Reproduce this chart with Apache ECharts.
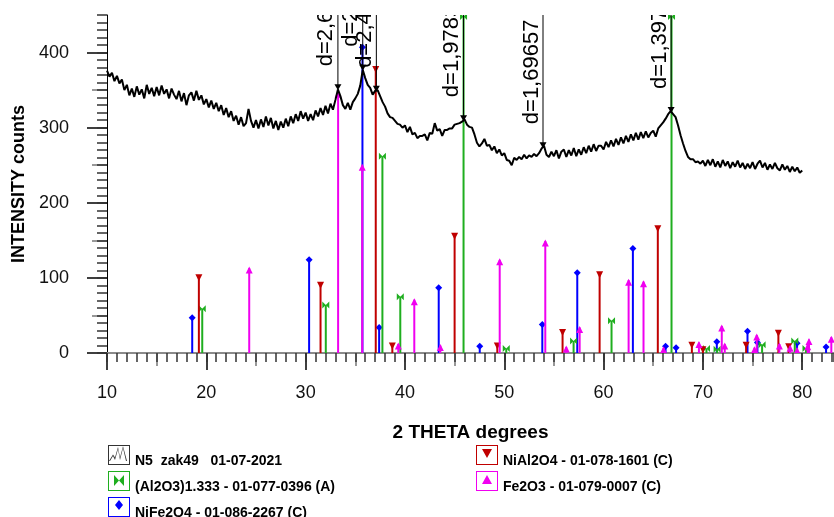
<!DOCTYPE html>
<html>
<head>
<meta charset="utf-8">
<script src="https://cdn.jsdelivr.net/npm/echarts@6/dist/echarts.min.js"></script>
<style>
html, body { margin: 0; padding: 0; background: #fff; }
#main { width: 834px; height: 517px; }
</style>
</head>
<body>
<div id="main"></div>
<script>
var FONT = '"Liberation Sans", Arial, sans-serif';

// measured scan, 2theta 10..80 in steps of 0.25
var scanStart = 10;
var scanStep = 0.25;
var scanCounts = [
	376, 368, 373, 362, 369, 359, 364, 350, 357, 343, 352, 341, 355, 344, 351, 339, 357, 345, 353, 342,
	354, 343, 356, 345, 351, 339, 352, 344, 338, 349, 335, 346, 330, 343, 347, 336, 349, 337, 343, 331,
	338, 327, 336, 325, 333, 322, 330, 317, 326, 314, 322, 309, 316, 304, 314, 302, 306, 325, 309, 300,
	310, 299, 311, 301, 315, 303, 313, 299, 309, 297, 308, 300, 312, 302, 315, 306, 318, 309, 322, 312,
	320, 309, 318, 310, 323, 315, 326, 317, 329, 319, 332, 324, 337, 351, 342, 330, 325, 333, 324, 334,
	339, 345, 356, 377, 366, 357, 353, 344, 349, 350, 342, 334, 328, 319, 314, 313, 309, 305, 304, 300,
	303, 294, 301, 291, 293, 286, 289, 289, 291, 283, 293, 292, 306, 296, 298, 289, 297, 297, 299, 299,
	304, 305, 306, 308, 311, 304, 301, 300, 291, 280, 275, 279, 285, 276, 277, 270, 275, 266, 271, 263,
	266, 257, 256, 250, 260, 257, 261, 258, 264, 259, 263, 261, 265, 262, 266, 272, 276, 264, 261, 268,
	262, 270, 259, 268, 271, 261, 270, 263, 273, 262, 271, 264, 274, 266, 276, 268, 278, 269, 276, 276,
	271, 281, 274, 283, 275, 285, 277, 287, 279, 289, 281, 291, 283, 293, 284, 294, 286, 295, 287, 293,
	296, 288, 299, 303, 307, 312, 318, 322, 318, 314, 303, 290, 279, 269, 261, 258, 258, 254, 255, 252,
	256, 249, 257, 250, 258, 248, 255, 247, 257, 249, 255, 246, 254, 248, 256, 247, 253, 245, 252, 246,
	254, 245, 252, 256, 247, 253, 244, 251, 245, 253, 246, 243, 251, 244, 249, 241, 248, 242, 247, 240,
	243
];

// peak labels (d spacing)
var dTheta = [33.25, 35.75, 37.12, 45.9, 53.9, 66.8];
var dCounts = [351, 377, 349, 310, 274, 321];
var dText = ['d=2,69241', 'd=2,51168', 'd=2,42016', 'd=1,97831', 'd=1,69657', 'd=1,39721'];

// reference patterns
var niFeTheta = [18.58, 30.35, 35.72, 37.4, 43.4, 47.53, 53.83, 57.35, 62.95, 66.24, 67.3, 71.4, 74.49, 75.49, 79.48, 82.4];
var niFeInt = [47, 124, 407, 34, 87, 9, 38, 107, 139, 9, 7, 15, 29, 14, 13, 8];

var alOxTheta = [19.59, 32.03, 37.73, 39.53, 45.9, 50.2, 56.98, 60.8, 66.84, 70.36, 71.43, 75.96, 79.25, 80.38];
var alOxInt = [59, 64, 262, 75, 448, 6, 16, 43, 448, 6, 5, 11, 16, 6];

var niAlTheta = [19.25, 31.5, 37.06, 38.73, 45.0, 49.3, 55.87, 59.6, 65.46, 68.89, 70.0, 74.35, 77.6, 78.64];
var niAlInt = [103, 93, 380, 12, 158, 12, 30, 107, 168, 13, 7, 13, 29, 11];

var feOxTheta = [24.32, 33.27, 35.7, 39.33, 40.94, 43.56, 49.54, 54.13, 56.24, 57.59, 62.52, 64.02, 66.04, 69.6, 71.9, 72.2, 75.19, 75.42, 77.7, 78.78, 79.48, 80.55, 80.68, 82.93];
var feOxInt = [113, 347, 250, 12, 71, 10, 124, 149, 8, 34, 97, 95, 7, 14, 36, 12, 7, 24, 12, 9, 6, 11, 18, 21];

// axis ticks
var xMajor = [10, 20, 30, 40, 50, 60, 70, 80];
var xMid = [15, 25, 35, 45, 55, 65, 75];
var yMajor = [0, 100, 200, 300, 400];
var yMid = [50, 150, 250, 350];

var names = {
	scan: 'N5  zak49   01-07-2021',
	alOx: '(Al2O3)1.333 - 01-077-0396 (A)',
	niFe: 'NiFe2O4 - 01-086-2267 (C)',
	niAl: 'NiAl2O4 - 01-078-1601 (C)',
	feOx: 'Fe2O3 - 01-079-0007 (C)'
};
var colors = { scan: '#000', alOx: '#1fae1f', niFe: '#0000ff', niAl: '#c00000', feOx: '#f000f0' };

// marker shapes
var mkDown = 'M0 0L10 0L5 9Z';
var mkUp = 'M5 0L10 9L0 9Z';
var mkTie = 'M0 0L5 5L0 10Z M10 0L5 5L10 10Z';
var mkDiamond = 'M5 0L10 5L5 10L0 5Z';

// legend boxes
var frame = 'M0 0H22V20H0Z M1 1V19H21V1Z ';
var icons = {
	scan: frame + 'M2 16L5 11L7 15L10 4L12 15L15 3L18 16L19 16L15 1.2L12 12.5L10 2L7 12.6L5 9.4L1 16Z',
	alOx: frame + 'M6 4L11 9.5L6 15Z M16 4L11 9.5L16 15Z',
	niFe: frame + 'M11 3L15 8L11 13L7 8Z',
	niAl: frame + 'M6 4H16L11 13Z',
	feOx: frame + 'M11 4L16 13H6Z'
};

function pairs(xs, ys) {
	var out = [];
	for (var i = 0; i < xs.length; i++) out.push([xs[i], ys[i]]);
	return out;
}

var scanData = [];
for (var i = 0; i < scanCounts.length; i++) {
	scanData.push([scanStart + i * scanStep, scanCounts[i]]);
}

function stickRender(shape, dy) {
	return function (params, api) {
		var x = api.value(0);
		var base = api.coord([x, 0]);
		var tip = api.coord([x, api.value(1)]);
		var c = api.visual('color');
		return {
			type: 'group',
			children: [
				{ type: 'line', shape: { x1: base[0], y1: base[1], x2: tip[0], y2: tip[1] }, style: { stroke: c, lineWidth: 2 } },
				{ type: 'path', shape: { pathData: shape, x: tip[0] - 3.5, y: tip[1] - 3.5 + dy, width: 7, height: 7, layout: 'cover' }, style: { fill: c } }
			]
		};
	};
}

function dRender(params, api) {
	var pt = api.coord([api.value(0), api.value(1)]);
	var topY = params.coordSys.y;
	return {
		type: 'group',
		children: [
			{ type: 'line', shape: { x1: pt[0], y1: topY, x2: pt[0], y2: pt[1] - 3 }, style: { stroke: '#000', lineWidth: 1 } },
			{ type: 'path', shape: { pathData: mkDown, x: pt[0] - 3.5, y: pt[1] - 5, width: 7, height: 6, layout: 'cover' }, style: { fill: '#000' } },
			{ type: 'text', x: pt[0] - 11.5, y: pt[1] - 23, rotation: Math.PI / 2,
				style: { text: dText[params.dataIndex], fill: '#000', fontSize: 22, fontFamily: FONT, align: 'left', verticalAlign: 'middle' } }
		]
	};
}

// three stacked bottom axes: labelled decades, mid ticks at fives, minor at every degree
function xAxisOf(ticks, len, color, idx) {
	var ax = {
		type: 'value', min: 10, max: 83.2, position: 'bottom',
		axisLine: { show: idx === 0, lineStyle: { color: '#8a8a8a', width: 2 } },
		axisTick: { length: len, lineStyle: { color: color, width: 1.5 } },
		axisLabel: { show: false },
		splitLine: { show: false }
	};
	if (ticks) {
		ax.axisTick.customValues = ticks;
	} else {
		ax.interval = 1;
	}
	if (idx === 0) {
		ax.axisLabel = { customValues: ticks, margin: 31, fontSize: 18, color: '#111', fontFamily: FONT };
		ax.name = '2 THETA degrees';
		ax.nameLocation = 'middle';
		ax.nameGap = 70;
		ax.nameTextStyle = { fontSize: 19, fontWeight: 'bold', color: '#000', fontFamily: FONT };
	}
	return ax;
}

function yAxisOf(ticks, len, color, idx) {
	var ax = {
		type: 'value', min: 0, max: 450, position: 'left',
		axisLine: { show: idx === 0, lineStyle: { color: '#000', width: 1 } },
		axisTick: { length: len, lineStyle: { color: color, width: 1.5 } },
		axisLabel: { show: false },
		splitLine: { show: false }
	};
	if (ticks) {
		ax.axisTick.customValues = ticks;
	} else {
		ax.interval = 10;
	}
	if (idx === 0) {
		ax.axisLabel = { customValues: ticks, margin: 38, fontSize: 18, color: '#111', fontFamily: FONT };
		ax.name = 'INTENSITY counts';
		ax.nameLocation = 'middle';
		ax.nameGap = 78;
		ax.nameTextStyle = { fontSize: 18, fontWeight: 'bold', color: '#000', fontFamily: FONT };
	}
	return ax;
}

function legendItem(key) {
	return { name: names[key], icon: 'path://' + icons[key], itemStyle: { color: key === 'scan' ? '#333' : colors[key] } };
}

function legendOf(keys, left) {
	return {
		orient: 'vertical', left: left, top: 445, height: 90, padding: 0, itemGap: 3,
		itemWidth: 22, itemHeight: 20, selectedMode: false,
		itemStyle: { borderWidth: 0 },
		formatter: '{t|{name}}',
		textStyle: {
			fontSize: 14, fontWeight: 'bold', color: '#000', fontFamily: FONT,
			rich: { t: { fontSize: 14, fontWeight: 'bold', color: '#000', fontFamily: FONT, padding: [12, 0, 0, 0] } }
		},
		data: keys.map(legendItem)
	};
}

var cc = echarts.init(document.getElementById('main'));

var op = {
	animation: false,
	backgroundColor: '#fff',
	grid: { left: 107, right: 0, top: 15, bottom: 164, outerBoundsMode: 'none' },
	legend: [
		legendOf(['scan', 'alOx', 'niFe'], 108),
		legendOf(['niAl', 'feOx'], 476)
	],
	xAxis: [xAxisOf(xMajor, 17, '#000', 0), xAxisOf(xMid, 13, '#777', 1), xAxisOf(null, 9, '#333', 2)],
	yAxis: [yAxisOf(yMajor, 20, '#000', 0), yAxisOf(yMid, 15, '#777', 1), yAxisOf(null, 10, '#333', 2)],
	series: [
		{ name: names.niFe, type: 'custom', clip: true, color: colors.niFe, renderItem: stickRender(mkDiamond, 0), data: pairs(niFeTheta, niFeInt), encode: { x: 0, y: 1 } },
		{ name: names.alOx, type: 'custom', clip: true, color: colors.alOx, renderItem: stickRender(mkTie, 0), data: pairs(alOxTheta, alOxInt), encode: { x: 0, y: 1 } },
		{ name: names.niAl, type: 'custom', clip: true, color: colors.niAl, renderItem: stickRender(mkDown, 2), data: pairs(niAlTheta, niAlInt), encode: { x: 0, y: 1 } },
		{ name: names.feOx, type: 'custom', clip: true, color: colors.feOx, renderItem: stickRender(mkUp, 2), data: pairs(feOxTheta, feOxInt), encode: { x: 0, y: 1 } },
		{
			name: names.scan, type: 'line', color: colors.scan, showSymbol: false, symbol: 'none',
			lineStyle: { color: '#000', width: 2 }, data: scanData, z: 5
		},
		{ name: 'd', type: 'custom', clip: true, renderItem: dRender, data: pairs(dTheta, dCounts), encode: { x: 0, y: 1 }, z: 6 }
	]
};

cc.setOption(op);
</script>
</body>
</html>
